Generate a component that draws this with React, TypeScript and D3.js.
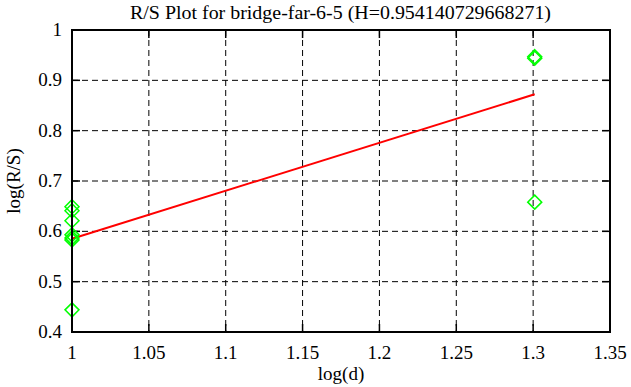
import React from 'react'
import * as d3 from 'd3'

const title = 'R/S Plot for bridge-far-6-5 (H=0.954140729668271)'
const xTicks = [1, 1.05, 1.1, 1.15, 1.2, 1.25, 1.3, 1.35]
const yTicks = [0.4, 0.5, 0.6, 0.7, 0.8, 0.9, 1]
const pointX = [1, 1, 1, 1, 1, 1, 1, 1.30103, 1.30103, 1.30103]
const pointY = [0.649, 0.641, 0.621, 0.593, 0.587, 0.583, 0.444, 0.947, 0.944, 0.658]
const hurst = 0.954140729668271
const fitIntercept = -0.369
const fitRange = [1, 1.30103]

const width = 631
const height = 387
const margin = { top: 30, right: 21, bottom: 55, left: 72 }

export default function App() {
  const x = d3
    .scaleLinear()
    .domain([1, 1.35])
    .range([margin.left, width - margin.right])
  const y = d3
    .scaleLinear()
    .domain([0.4, 1])
    .range([height - margin.bottom, margin.top])
  const x0 = margin.left
  const x1 = width - margin.right
  const y0 = height - margin.bottom
  const y1 = margin.top
  const tick = 8
  const font = '"Liberation Serif", "Times New Roman", Tinos, "DejaVu Serif", serif'
  const fmt = (v) => String(+v.toFixed(2))

  const line = d3
    .line()
    .x((d) => x(d))
    .y((d) => y(hurst * d + fitIntercept))

  const r = 7
  const diamond = (cx, cy) =>
    `M${cx},${cy - r}L${cx + r},${cy}L${cx},${cy + r}L${cx - r},${cy}Z`

  return (
    <svg
      width={width}
      height={height}
      style={{ position: 'absolute', left: 0, top: 0, background: '#fff', fontFamily: font, fontSize: '19px' }}
    >
      <rect width={width} height={height} fill="#fff" />
      {/* grid */}
      <g stroke="#000" strokeWidth={1} strokeDasharray="6,4">
        {xTicks.slice(1, -1).map((t) => (
          <line key={'gx' + t} x1={x(t)} x2={x(t)} y1={y1} y2={y0} />
        ))}
        {yTicks.slice(1, -1).map((t) => (
          <line key={'gy' + t} x1={x0} x2={x1} y1={y(t)} y2={y(t)} />
        ))}
      </g>
      {/* ticks */}
      <g stroke="#000" strokeWidth={1.5}>
        {xTicks.map((t) => (
          <g key={'tx' + t}>
            <line x1={x(t)} x2={x(t)} y1={y0} y2={y0 - tick} />
            <line x1={x(t)} x2={x(t)} y1={y1} y2={y1 + tick} />
          </g>
        ))}
        {yTicks.map((t) => (
          <g key={'ty' + t}>
            <line x1={x0} x2={x0 + tick} y1={y(t)} y2={y(t)} />
            <line x1={x1} x2={x1 - tick} y1={y(t)} y2={y(t)} />
          </g>
        ))}
      </g>
      {/* fit */}
      <path d={line(fitRange)} fill="none" stroke="#ff0000" strokeWidth={2} />
      {/* points */}
      <g fill="none" stroke="#00ff00" strokeWidth={1.5}>
        {pointX.map((px, i) => (
          <path key={'p' + i} d={diamond(x(px), y(pointY[i]))} />
        ))}
      </g>
      <rect
        x={x0}
        y={y1}
        width={x1 - x0}
        height={y0 - y1}
        fill="none"
        stroke="#000"
        strokeWidth={2}
      />
      {/* labels */}
      {xTicks.map((t) => (
        <text key={'lx' + t} x={x(t)} y={y0 + 27} textAnchor="middle">
          {fmt(t)}
        </text>
      ))}
      {yTicks.map((t) => (
        <text key={'ly' + t} x={x0 - 10} y={y(t) + 6} textAnchor="end">
          {fmt(t)}
        </text>
      ))}
      <text
        x={130}
        y={19}
        textLength={421}
        lengthAdjust="spacingAndGlyphs"
        fontSize={18}
      >
        {title}
      </text>
      <text x={(x0 + x1) / 2} y={380} textAnchor="middle">
        log(d)
      </text>
      <text
        transform={`translate(20,${(y0 + y1) / 2}) rotate(-90)`}
        textAnchor="middle"
      >
        log(R/S)
      </text>
    </svg>
  )
}
